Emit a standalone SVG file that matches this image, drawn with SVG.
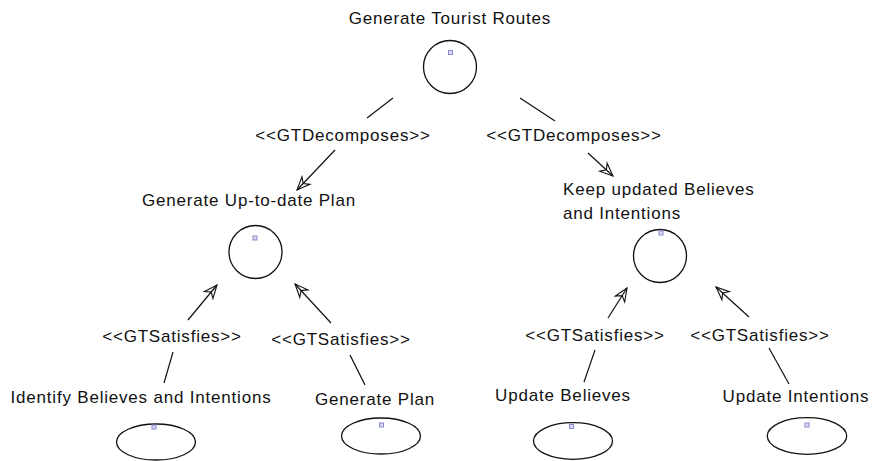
<svg xmlns="http://www.w3.org/2000/svg" width="872" height="461" viewBox="0 0 872 461">
  <style>
    text { font-family: "Liberation Sans", Arial, sans-serif; font-size: 17px; letter-spacing: 0.8px; fill: #111; }
    .mid { text-anchor: middle; }
    .goal { fill: #fff; stroke: #111; stroke-width: 1.3; }
    .task { fill: #fff; stroke: #111; stroke-width: 1.3; }
    .handle { fill: #dcdcf0; stroke: #8a8ad0; stroke-width: 1; }
    .link { fill: none; stroke: #111; stroke-width: 1.2; }
  </style>
  <defs>
    <marker id="head" viewBox="-15 -8 16 16" markerWidth="16" markerHeight="16" refX="0" refY="0" orient="auto" markerUnits="userSpaceOnUse" overflow="visible">
      <path d="M-13,-5.5 L0,0 L-13,5.5 L-9,0 Z" fill="none" stroke="#111" stroke-width="1.1" stroke-linejoin="miter"/>
    </marker>
  </defs>
  <rect width="872" height="461" fill="#fff"/>

  <!-- goals -->
  <g id="goal-generate-tourist-routes">
    <text class="mid" x="450" y="24">Generate Tourist Routes</text>
    <circle class="goal" cx="450" cy="67" r="26.5"/>
    <rect class="handle" x="448.5" y="50.5" width="4" height="4"/>
  </g>
  <g id="goal-generate-up-to-date-plan">
    <text class="mid" x="249" y="206">Generate Up-to-date Plan</text>
    <circle class="goal" cx="255.5" cy="252" r="26.5"/>
    <rect class="handle" x="253" y="236" width="4" height="4"/>
  </g>
  <g id="goal-keep-updated">
    <text x="563" y="195">Keep updated Believes</text>
    <text x="563" y="219">and Intentions</text>
    <circle class="goal" cx="660" cy="256" r="26.5"/>
    <rect class="handle" x="659" y="231" width="4" height="4"/>
  </g>

  <!-- tasks -->
  <g id="task-identify-believes">
    <text class="mid" x="141" y="403">Identify Believes and Intentions</text>
    <ellipse class="task" cx="156" cy="442" rx="39.5" ry="18"/>
    <rect class="handle" x="152" y="425" width="4" height="4"/>
  </g>
  <g id="task-generate-plan">
    <text class="mid" x="375" y="405">Generate Plan</text>
    <ellipse class="task" cx="381" cy="436" rx="39.5" ry="18"/>
    <rect class="handle" x="379.5" y="423" width="4" height="4"/>
  </g>
  <g id="task-update-believes">
    <text class="mid" x="563" y="401">Update Believes</text>
    <ellipse class="task" cx="573" cy="441" rx="39.5" ry="18.3"/>
    <rect class="handle" x="569.5" y="424.5" width="4" height="4"/>
  </g>
  <g id="task-update-intentions">
    <text class="mid" x="796" y="402">Update Intentions</text>
    <ellipse class="task" cx="807" cy="436" rx="39.7" ry="18.3"/>
    <rect class="handle" x="805" y="423" width="4" height="4"/>
  </g>

  <!-- connectors -->
  <g id="connectors">
    <!-- decomposition links -->
    <line class="link" x1="393" y1="98" x2="367" y2="118"/>
    <text class="mid" x="343" y="141">&lt;&lt;GTDecomposes&gt;&gt;</text>
    <line class="link" x1="335" y1="150" x2="297" y2="190" marker-end="url(#head)"/>

    <line class="link" x1="520" y1="98" x2="555" y2="121"/>
    <text class="mid" x="574" y="141">&lt;&lt;GTDecomposes&gt;&gt;</text>
    <line class="link" x1="588" y1="153" x2="613" y2="176" marker-end="url(#head)"/>

    <!-- satisfaction links -->
    <line class="link" x1="164" y1="383" x2="173" y2="352"/>
    <text class="mid" x="172" y="342">&lt;&lt;GTSatisfies&gt;&gt;</text>
    <line class="link" x1="188" y1="320" x2="217" y2="285" marker-end="url(#head)"/>

    <line class="link" x1="365" y1="385" x2="350" y2="355"/>
    <text class="mid" x="341" y="345">&lt;&lt;GTSatisfies&gt;&gt;</text>
    <line class="link" x1="331" y1="323" x2="295" y2="284" marker-end="url(#head)"/>

    <line class="link" x1="584" y1="382" x2="595" y2="350"/>
    <text class="mid" x="595" y="341">&lt;&lt;GTSatisfies&gt;&gt;</text>
    <line class="link" x1="608" y1="318" x2="627" y2="288" marker-end="url(#head)"/>

    <line class="link" x1="789" y1="384" x2="769" y2="348"/>
    <text class="mid" x="760" y="341">&lt;&lt;GTSatisfies&gt;&gt;</text>
    <line class="link" x1="749" y1="317" x2="716" y2="287" marker-end="url(#head)"/>
  </g>
</svg>
